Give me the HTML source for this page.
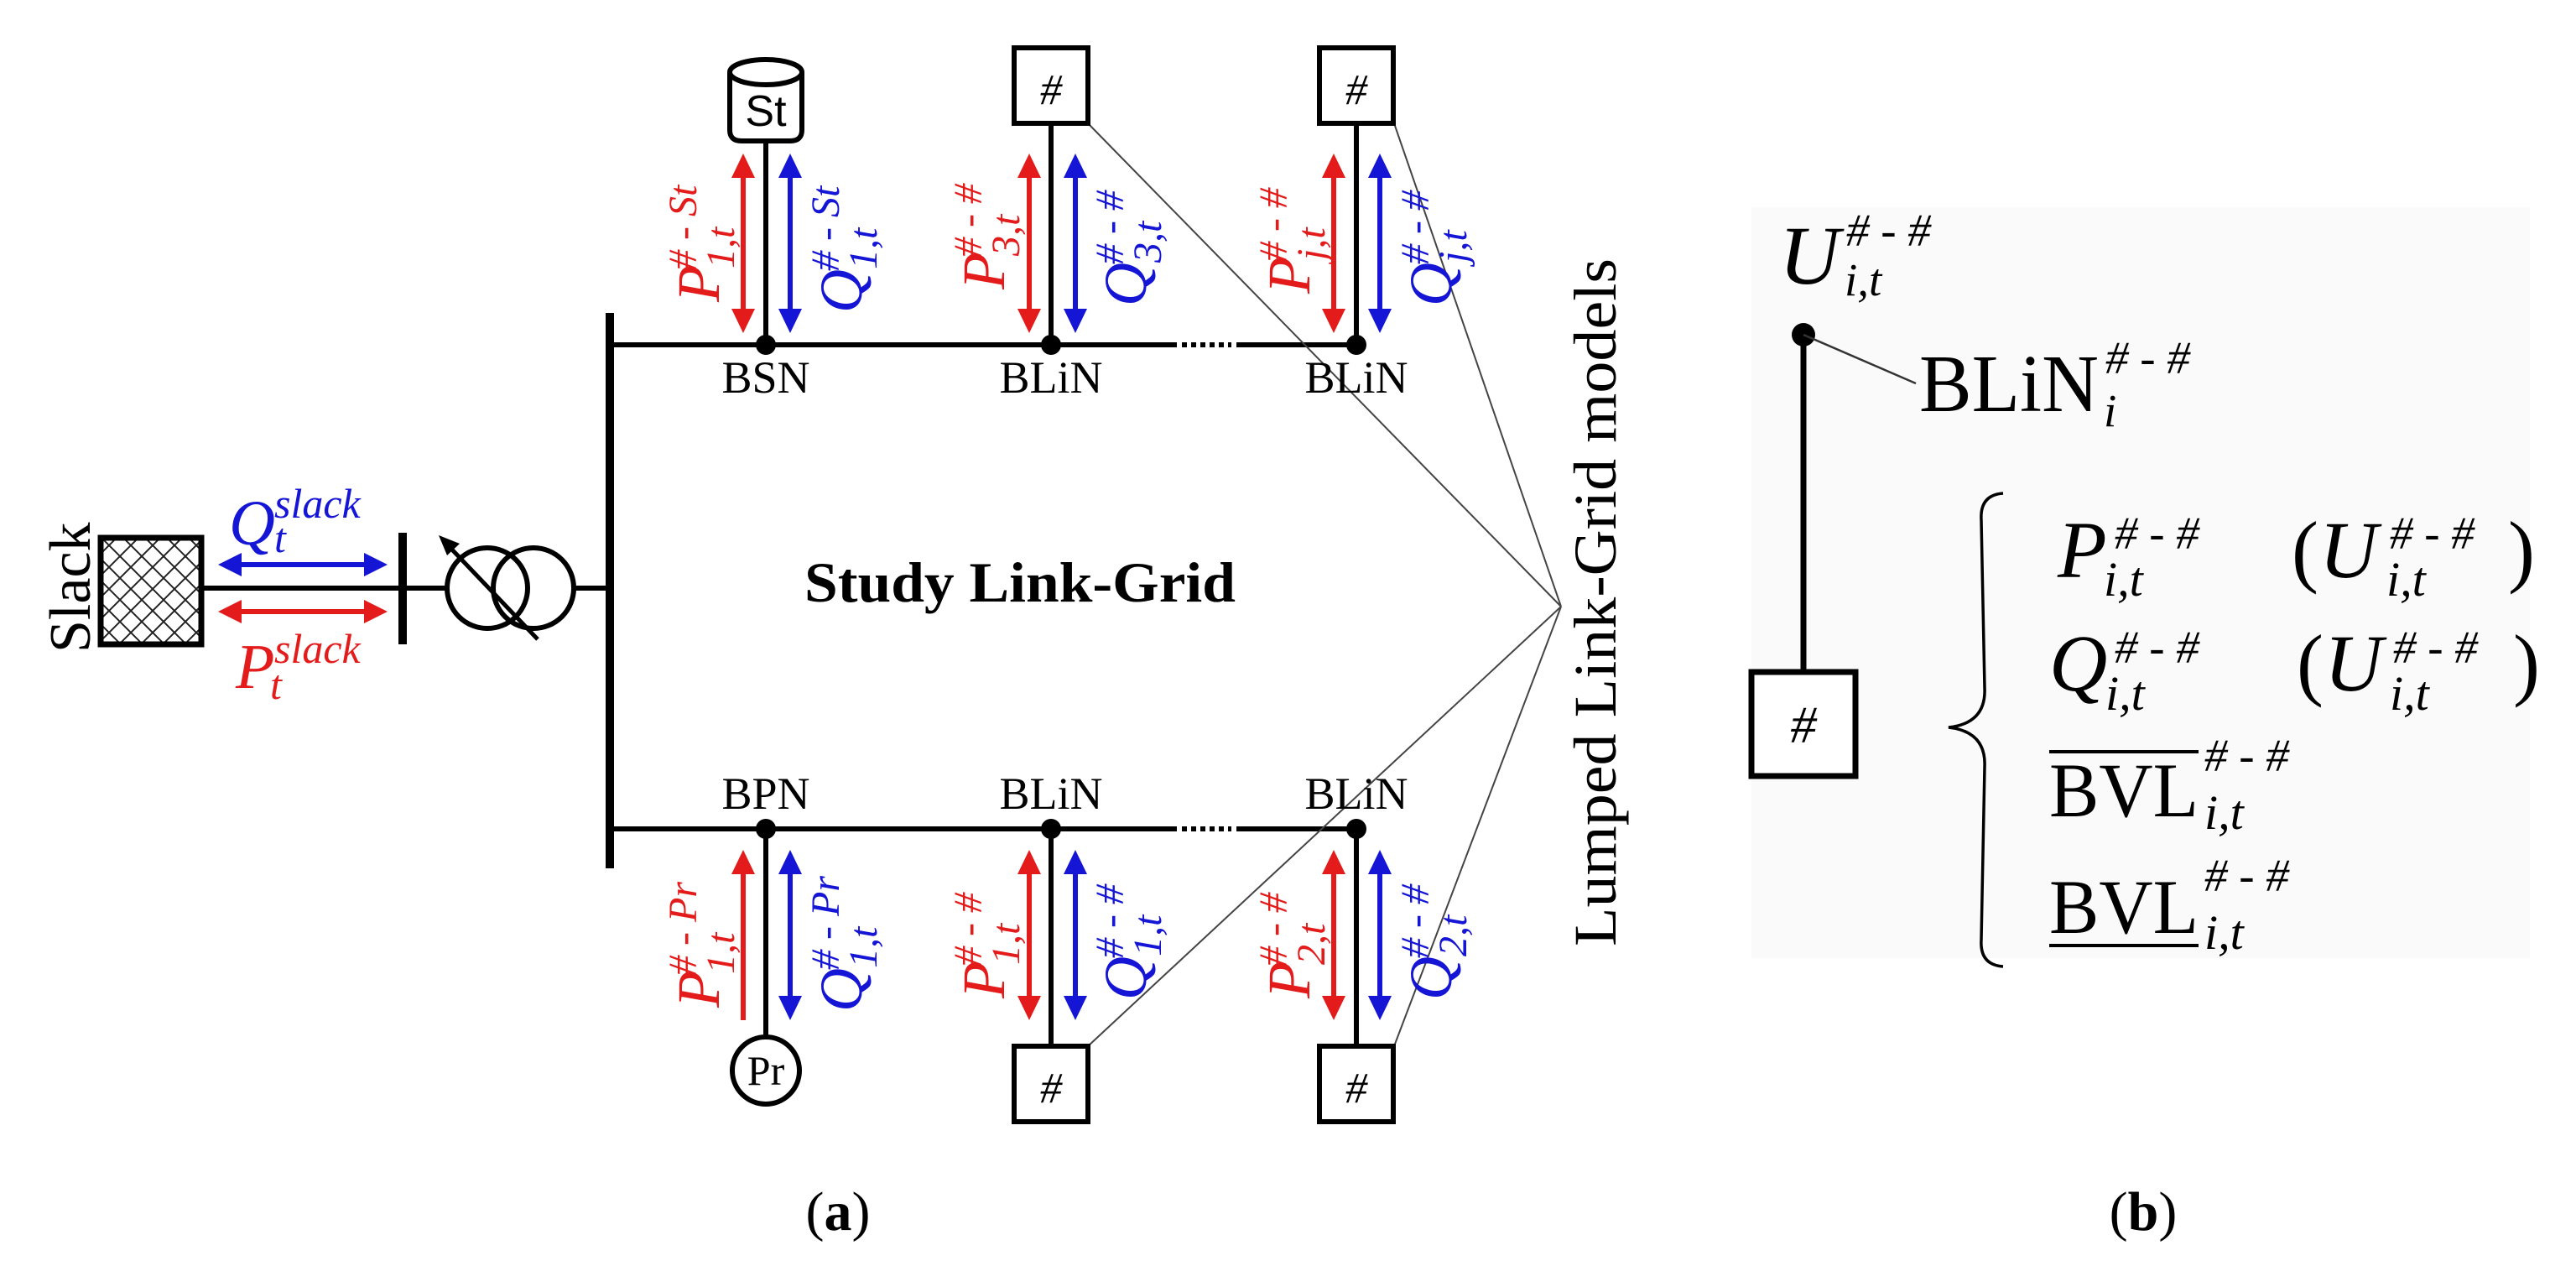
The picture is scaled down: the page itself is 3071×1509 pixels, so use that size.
<!DOCTYPE html>
<html><head><meta charset="utf-8"><style>
html,body{margin:0;padding:0;background:#fff;}
svg{display:block;}
text{font-family:"Liberation Serif",serif;}
.it{font-style:italic;}
</style></head><body>
<svg width="3071" height="1509" viewBox="0 0 3071 1509" xmlns="http://www.w3.org/2000/svg">
<defs>
<pattern id="hatch" width="26" height="26" patternUnits="userSpaceOnUse">
<path d="M0 0L26 26M26 0L0 26" stroke="#222" stroke-width="2"/>
</pattern>
</defs>
<!-- (b) background -->
<rect x="2088" y="247" width="928" height="895" fill="#fafafa"/>

<!-- Slack -->
<text transform="translate(107,778) rotate(-90)" font-size="70">Slack</text>
<rect x="120" y="641" width="120" height="127" fill="url(#hatch)" stroke="#000" stroke-width="7"/>
<line x1="240" y1="701" x2="480" y2="701" stroke="#000" stroke-width="6"/>
<line x1="480" y1="635" x2="480" y2="768" stroke="#000" stroke-width="10"/>
<!-- slack arrows -->
<g fill="#1515d6" stroke="#1515d6">
<line x1="280" y1="673" x2="440" y2="673" stroke-width="6"/>
<polygon points="260,673 288,659 288,687" stroke="none"/>
<polygon points="462,673 434,659 434,687" stroke="none"/>
</g>
<g fill="#e31b1b" stroke="#e31b1b">
<line x1="280" y1="729" x2="440" y2="729" stroke-width="6"/>
<polygon points="260,729 288,715 288,743" stroke="none"/>
<polygon points="462,729 434,715 434,743" stroke="none"/>
</g>
<text x="273" y="649" font-size="76" class="it" fill="#1515d6">Q</text>
<text x="327" y="617" font-size="50" class="it" fill="#1515d6">slack</text>
<text x="327" y="658" font-size="50" class="it" fill="#1515d6">t</text>
<text x="281" y="820" font-size="76" class="it" fill="#e31b1b">P</text>
<text x="327" y="790" font-size="50" class="it" fill="#e31b1b">slack</text>
<text x="322" y="833" font-size="50" class="it" fill="#e31b1b">t</text>

<!-- transformer -->
<line x1="480" y1="701" x2="533" y2="701" stroke="#000" stroke-width="6"/>
<circle cx="581" cy="701" r="48" fill="none" stroke="#000" stroke-width="6"/>
<circle cx="636" cy="701" r="48" fill="none" stroke="#000" stroke-width="6"/>
<line x1="684" y1="701" x2="727" y2="701" stroke="#000" stroke-width="6"/>
<line x1="641" y1="762" x2="535" y2="651" stroke="#000" stroke-width="5"/>
<polygon points="523,638 548,648 533,662" fill="#000"/>

<!-- main bus -->
<line x1="727" y1="373" x2="727" y2="1035" stroke="#000" stroke-width="10"/>

<!-- top line -->
<line x1="727" y1="411" x2="1403" y2="411" stroke="#000" stroke-width="6"/>
<line x1="1409" y1="411" x2="1468" y2="411" stroke="#000" stroke-width="6" stroke-dasharray="6,5"/>
<line x1="1474" y1="411" x2="1617" y2="411" stroke="#000" stroke-width="6"/>
<!-- bottom line -->
<line x1="727" y1="988" x2="1403" y2="988" stroke="#000" stroke-width="6"/>
<line x1="1409" y1="988" x2="1468" y2="988" stroke="#000" stroke-width="6" stroke-dasharray="6,5"/>
<line x1="1474" y1="988" x2="1617" y2="988" stroke="#000" stroke-width="6"/>

<!-- thin lines -->
<g stroke="#444" stroke-width="2">
<line x1="1297" y1="147" x2="1861" y2="723"/>
<line x1="1662" y1="147" x2="1861" y2="723"/>
<line x1="1297" y1="1247" x2="1861" y2="723"/>
<line x1="1662" y1="1247" x2="1861" y2="723"/>
</g>

<!-- verticals -->
<g stroke="#000" stroke-width="6">
<line x1="913" y1="165" x2="913" y2="411"/>
<line x1="1253" y1="147" x2="1253" y2="411"/>
<line x1="1617" y1="147" x2="1617" y2="411"/>
<line x1="913" y1="988" x2="913" y2="1236"/>
<line x1="1253" y1="988" x2="1253" y2="1247"/>
<line x1="1617" y1="988" x2="1617" y2="1247"/>
</g>
<g fill="#000">
<circle cx="913" cy="411" r="12"/><circle cx="1253" cy="411" r="12"/><circle cx="1617" cy="411" r="12"/>
<circle cx="913" cy="988" r="12"/><circle cx="1253" cy="988" r="12"/><circle cx="1617" cy="988" r="12"/>
</g>

<!-- St cylinder -->
<path d="M870 86 L870 155 Q870 168 884 168 L942 168 Q956 168 956 155 L956 86" fill="#fff" stroke="#000" stroke-width="6"/>
<ellipse cx="913" cy="86" rx="43" ry="15" fill="#fff" stroke="#000" stroke-width="6"/>
<text x="913" y="150" font-size="52" text-anchor="middle" style="font-family:'Liberation Sans',sans-serif">St</text>
<!-- top # boxes -->
<rect x="1209" y="57" width="88" height="90" fill="#fff" stroke="#000" stroke-width="6"/>
<text x="1253" y="124" font-size="52" text-anchor="middle" class="it">#</text>
<rect x="1573" y="57" width="88" height="90" fill="#fff" stroke="#000" stroke-width="6"/>
<text x="1617" y="124" font-size="52" text-anchor="middle" class="it">#</text>
<!-- bottom -->
<circle cx="913" cy="1276" r="40" fill="#fff" stroke="#000" stroke-width="6"/>
<text x="913" y="1293" font-size="50" text-anchor="middle">Pr</text>
<rect x="1209" y="1247" width="88" height="90" fill="#fff" stroke="#000" stroke-width="6"/>
<text x="1253" y="1314" font-size="52" text-anchor="middle" class="it">#</text>
<rect x="1573" y="1247" width="88" height="90" fill="#fff" stroke="#000" stroke-width="6"/>
<text x="1617" y="1314" font-size="52" text-anchor="middle" class="it">#</text>

<!-- node labels -->
<g font-size="54" text-anchor="middle">
<text x="913" y="468">BSN</text><text x="1253" y="468">BLiN</text><text x="1617" y="468">BLiN</text>
<text x="913" y="964">BPN</text><text x="1253" y="964">BLiN</text><text x="1617" y="964">BLiN</text>
</g>

<!-- vertical arrows -->
<g id="arrows">
<g fill="#e31b1b" stroke="#e31b1b">
<line x1="886" y1="205" x2="886" y2="375" stroke-width="6"/><polygon points="886,183 872,212 900,212" stroke="none"/><polygon points="886,397 872,368 900,368" stroke="none"/>
<line x1="1227" y1="205" x2="1227" y2="375" stroke-width="6"/><polygon points="1227,183 1213,212 1241,212" stroke="none"/><polygon points="1227,397 1213,368 1241,368" stroke="none"/>
<line x1="1590" y1="205" x2="1590" y2="375" stroke-width="6"/><polygon points="1590,183 1576,212 1604,212" stroke="none"/><polygon points="1590,397 1576,368 1604,368" stroke="none"/>
<line x1="886" y1="1035" x2="886" y2="1216" stroke-width="6"/><polygon points="886,1013 872,1042 900,1042" stroke="none"/>
<line x1="1227" y1="1035" x2="1227" y2="1194" stroke-width="6"/><polygon points="1227,1013 1213,1042 1241,1042" stroke="none"/><polygon points="1227,1216 1213,1187 1241,1187" stroke="none"/>
<line x1="1590" y1="1035" x2="1590" y2="1194" stroke-width="6"/><polygon points="1590,1013 1576,1042 1604,1042" stroke="none"/><polygon points="1590,1216 1576,1187 1604,1187" stroke="none"/>
</g>
<g fill="#1515d6" stroke="#1515d6">
<line x1="942" y1="205" x2="942" y2="375" stroke-width="6"/><polygon points="942,183 928,212 956,212" stroke="none"/><polygon points="942,397 928,368 956,368" stroke="none"/>
<line x1="1282" y1="205" x2="1282" y2="375" stroke-width="6"/><polygon points="1282,183 1268,212 1296,212" stroke="none"/><polygon points="1282,397 1268,368 1296,368" stroke="none"/>
<line x1="1645" y1="205" x2="1645" y2="375" stroke-width="6"/><polygon points="1645,183 1631,212 1659,212" stroke="none"/><polygon points="1645,397 1631,368 1659,368" stroke="none"/>
<line x1="942" y1="1035" x2="942" y2="1194" stroke-width="6"/><polygon points="942,1013 928,1042 956,1042" stroke="none"/><polygon points="942,1216 928,1187 956,1187" stroke="none"/>
<line x1="1282" y1="1035" x2="1282" y2="1194" stroke-width="6"/><polygon points="1282,1013 1268,1042 1296,1042" stroke="none"/><polygon points="1282,1216 1268,1187 1296,1187" stroke="none"/>
<line x1="1645" y1="1035" x2="1645" y2="1194" stroke-width="6"/><polygon points="1645,1013 1631,1042 1659,1042" stroke="none"/><polygon points="1645,1216 1631,1187 1659,1187" stroke="none"/>
</g>
</g>

<!-- rotated labels -->
<g class="it" font-style="italic">
<g fill="#e31b1b">
<g transform="translate(857,360) rotate(-90)"><text font-size="72">P</text><text x="40" y="18" font-size="48">1,t</text><text x="38" y="-27" font-size="48"># - St</text></g>
<g transform="translate(1197,345) rotate(-90)"><text font-size="72">P</text><text x="40" y="18" font-size="48">3,t</text><text x="38" y="-27" font-size="48"># - #</text></g>
<g transform="translate(1561,350) rotate(-90)"><text font-size="72">P</text><text x="40" y="18" font-size="48">j,t</text><text x="38" y="-27" font-size="48"># - #</text></g>
<g transform="translate(857,1201) rotate(-90)"><text font-size="72">P</text><text x="40" y="18" font-size="48">1,t</text><text x="38" y="-27" font-size="48"># - Pr</text></g>
<g transform="translate(1197,1190) rotate(-90)"><text font-size="72">P</text><text x="40" y="18" font-size="48">1,t</text><text x="38" y="-27" font-size="48"># - #</text></g>
<g transform="translate(1561,1190) rotate(-90)"><text font-size="72">P</text><text x="40" y="18" font-size="48">2,t</text><text x="38" y="-27" font-size="48"># - #</text></g>
</g>
<g fill="#1515d6">
<g transform="translate(1027,373) rotate(-90)"><text font-size="72">Q</text><text x="52" y="18" font-size="48">1,t</text><text x="50" y="-27" font-size="48"># - St</text></g>
<g transform="translate(1366,365) rotate(-90)"><text font-size="72">Q</text><text x="52" y="18" font-size="48">3,t</text><text x="50" y="-27" font-size="48"># - #</text></g>
<g transform="translate(1730,365) rotate(-90)"><text font-size="72">Q</text><text x="52" y="18" font-size="48">j,t</text><text x="50" y="-27" font-size="48"># - #</text></g>
<g transform="translate(1027,1206) rotate(-90)"><text font-size="72">Q</text><text x="52" y="18" font-size="48">1,t</text><text x="50" y="-27" font-size="48"># - Pr</text></g>
<g transform="translate(1366,1192) rotate(-90)"><text font-size="72">Q</text><text x="52" y="18" font-size="48">1,t</text><text x="50" y="-27" font-size="48"># - #</text></g>
<g transform="translate(1730,1192) rotate(-90)"><text font-size="72">Q</text><text x="52" y="18" font-size="48">2,t</text><text x="50" y="-27" font-size="48"># - #</text></g>
</g>
</g>

<text x="1216" y="717" font-size="68" font-weight="bold" text-anchor="middle" textLength="514" lengthAdjust="spacingAndGlyphs">Study Link-Grid</text>
<text transform="translate(1926,1128) rotate(-90)" font-size="72" textLength="820" lengthAdjust="spacingAndGlyphs">Lumped Link-Grid models</text>

<text x="999" y="1466" font-size="66" text-anchor="middle">(<tspan font-weight="bold">a</tspan>)</text>
<text x="2555" y="1466" font-size="66" text-anchor="middle">(<tspan font-weight="bold">b</tspan>)</text>

<!-- (b) -->
<text x="2121" y="338" font-size="100" class="it">U</text>
<text x="2201" y="293" font-size="55" class="it"># - #</text>
<text x="2199" y="352" font-size="55" class="it">i,t</text>
<circle cx="2150" cy="399" r="14" fill="#000"/>
<line x1="2150" y1="399" x2="2150" y2="800" stroke="#000" stroke-width="7"/>
<line x1="2150" y1="399" x2="2284" y2="457" stroke="#333" stroke-width="2.5"/>
<text x="2288" y="490" font-size="98" textLength="214" lengthAdjust="spacingAndGlyphs">BLiN</text>
<text x="2510" y="445" font-size="55" class="it"># - #</text>
<text x="2508" y="508" font-size="55" class="it">i</text>
<rect x="2088" y="801" width="124" height="124" fill="#fff" stroke="#000" stroke-width="7"/>
<text x="2150" y="885" font-size="62" text-anchor="middle" class="it">#</text>
<path d="M2388 588 Q2360 590 2362 620 L2366 820 Q2368 862 2323 867 Q2368 872 2366 914 L2362 1120 Q2360 1150 2388 1152" fill="none" stroke="#000" stroke-width="3.5"/>

<text x="2453" y="688" font-size="96" class="it">P</text>
<text x="2521" y="654" font-size="55" class="it"># - #</text>
<text x="2508" y="710" font-size="58" class="it">i,t</text>
<text x="2732" y="688" font-size="96">(</text>
<text x="2765" y="688" font-size="96" class="it">U</text>
<text x="2849" y="654" font-size="55" class="it"># - #</text>
<text x="2845" y="710" font-size="58" class="it">i,t</text>
<text x="2990" y="688" font-size="96">)</text>

<text x="2443" y="823" font-size="96" class="it">Q</text>
<text x="2521" y="790" font-size="55" class="it"># - #</text>
<text x="2510" y="846" font-size="58" class="it">i,t</text>
<text x="2738" y="823" font-size="96">(</text>
<text x="2771" y="823" font-size="96" class="it">U</text>
<text x="2853" y="790" font-size="55" class="it"># - #</text>
<text x="2849" y="846" font-size="58" class="it">i,t</text>
<text x="2996" y="823" font-size="96">)</text>

<text x="2443" y="973" font-size="92" textLength="178" lengthAdjust="spacingAndGlyphs">BVL</text>
<line x1="2443" y1="896" x2="2621" y2="896" stroke="#000" stroke-width="4"/>
<text x="2628" y="919" font-size="55" class="it"># - #</text>
<text x="2628" y="988" font-size="58" class="it">i,t</text>

<text x="2443" y="1112" font-size="92" textLength="178" lengthAdjust="spacingAndGlyphs">BVL</text>
<line x1="2443" y1="1127" x2="2621" y2="1127" stroke="#000" stroke-width="4"/>
<text x="2628" y="1062" font-size="55" class="it"># - #</text>
<text x="2628" y="1131" font-size="58" class="it">i,t</text>
</svg>
</body></html>
